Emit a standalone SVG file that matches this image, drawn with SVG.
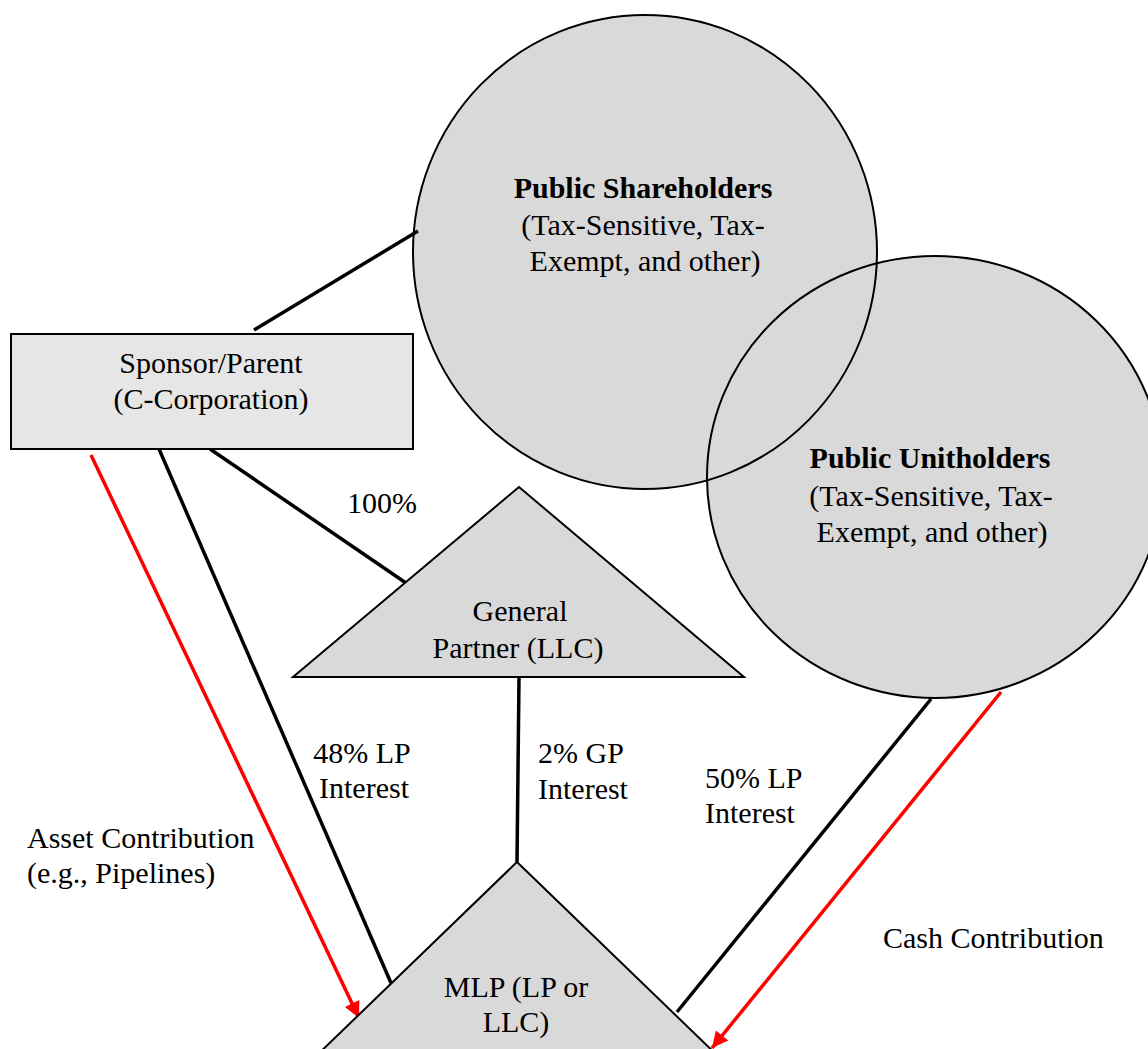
<svg xmlns="http://www.w3.org/2000/svg" width="1148" height="1049" viewBox="0 0 1148 1049">
<style>
  .t { font-family: "Liberation Serif", "Times New Roman", "DejaVu Serif", serif; font-size: 30px; fill: #000; }
  .c { text-anchor: middle; }
  .b { font-weight: bold; }
  .shape { fill: #d9d9d9; stroke: #000; stroke-width: 2; }
  .fillonly { fill: #d9d9d9; stroke: none; }
  .outline { fill: none; stroke: #000; stroke-width: 2; }
  .conn { stroke: #000; stroke-width: 3.5; fill: none; }
  .flow { stroke: #ff0000; stroke-width: 3.5; fill: none; marker-end: url(#redArrow); }
</style>
<defs>
  <marker id="redArrow" viewBox="0 0 10 10" refX="10" refY="5" markerUnits="userSpaceOnUse" markerWidth="20" markerHeight="16" orient="auto">
    <path d="M0,0 L10,5 L0,10 z" fill="#ff0000"/>
  </marker>
</defs>
<rect width="1148" height="1049" fill="#fff"/>

<g id="public-shareholders-fill">
  <ellipse class="fillonly" cx="645" cy="252" rx="232" ry="237"/>
</g>
<g id="public-unitholders-fill">
  <ellipse class="fillonly" cx="935" cy="477" rx="228" ry="221"/>
</g>

<g id="connectors">
  <line class="conn" x1="254" y1="330" x2="418" y2="231"/>
  <line class="conn" x1="159" y1="449" x2="391" y2="983"/>
  <line class="conn" x1="210" y1="449" x2="406" y2="583"/>
  <line class="conn" x1="519" y1="678" x2="517" y2="862"/>
  <line class="conn" x1="931" y1="699" x2="677" y2="1012"/>
  <line class="flow" x1="91" y1="455" x2="359" y2="1018"/>
  <line class="flow" x1="1001" y1="692" x2="712" y2="1048"/>
</g>

<g id="public-shareholders">
  <ellipse class="outline" cx="645" cy="252" rx="232" ry="237"/>
  <text class="t c b" x="643" y="198">Public Shareholders</text>
  <text class="t c" x="643" y="235">(Tax-Sensitive, Tax-</text>
  <text class="t c" x="645" y="271">Exempt, and other)</text>
</g>

<g id="public-unitholders">
  <ellipse class="outline" cx="935" cy="477" rx="228" ry="221"/>
  <text class="t c b" x="930" y="468">Public Unitholders</text>
  <text class="t c" x="931" y="506">(Tax-Sensitive, Tax-</text>
  <text class="t c" x="932" y="542">Exempt, and other)</text>
</g>

<g id="sponsor-parent">
  <rect x="11" y="334" width="402" height="115" fill="#e6e6e6" stroke="#000" stroke-width="2"/>
  <text class="t c" x="211" y="373">Sponsor/Parent</text>
  <text class="t c" x="211" y="409">(C-Corporation)</text>
</g>

<g id="general-partner">
  <polygon class="shape" points="519,487 293,677 744,677"/>
  <text class="t c" x="520" y="621">General</text>
  <text class="t c" x="518" y="658">Partner (LLC)</text>
</g>

<g id="mlp">
  <polygon class="shape" points="517,862 722,1060 312,1060"/>
  <text class="t c" x="516" y="997">MLP (LP or</text>
  <text class="t c" x="516" y="1032">LLC)</text>
</g>

<g id="labels">
  <text class="t" x="347" y="513">100%</text>
  <text class="t c" x="362" y="763">48% LP</text>
  <text class="t c" x="364" y="798">Interest</text>
  <text class="t" x="538" y="763">2% GP</text>
  <text class="t" x="538" y="799">Interest</text>
  <text class="t" x="705" y="788">50% LP</text>
  <text class="t" x="705" y="823">Interest</text>
  <text class="t" x="27" y="848">Asset Contribution</text>
  <text class="t" x="27" y="883">(e.g., Pipelines)</text>
  <text class="t" x="883" y="948">Cash Contribution</text>
</g>
</svg>
